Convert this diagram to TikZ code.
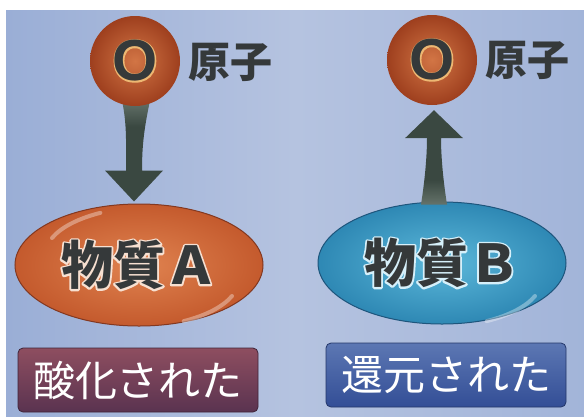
\documentclass[tikz,border=0pt]{standalone}
\usepackage{fontspec}
\usetikzlibrary{shapes.geometric,calc}
\newfontfamily\jpfont{Noto Sans CJK JP}
\newfontfamily\latinbold{Liberation Sans}
% stroke-only copy of a text, used as a soft light rim behind it
\newcommand\rimtext[3]{\special{pdf:code q 1 Tr #2 w 1 j 1 J #1 RG}#3\special{pdf:code Q}}
\definecolor{bgedge}{HTML}{9AAED6}
\definecolor{bgmid}{HTML}{B5C3E0}
\definecolor{atomin}{HTML}{D27545}
\definecolor{atomout}{HTML}{9E3F1E}
\definecolor{arrowc}{HTML}{3A4841}
\definecolor{arrowlt}{HTML}{A2B0A6}
\definecolor{inkc}{HTML}{35393A}
\definecolor{redin}{HTML}{E08350}
\definecolor{redout}{HTML}{C45A2D}
\definecolor{redline}{HTML}{833820}
\definecolor{bluein}{HTML}{5CB8DA}
\definecolor{blueout}{HTML}{2E88B4}
\definecolor{blueline}{HTML}{1E557C}
\definecolor{tagAtop}{HTML}{8E4E60}
\definecolor{tagAbot}{HTML}{5A3350}
\definecolor{tagBtop}{HTML}{5C77B3}
\definecolor{tagBbot}{HTML}{334E96}
\pgfdeclareverticalshading{shaftdown}{100bp}{color(0bp)=(arrowc); color(62bp)=(arrowc); color(94bp)=(arrowlt); color(100bp)=(arrowlt)}
\pgfdeclareverticalshading{shaftup}{100bp}{color(0bp)=(arrowlt); color(6bp)=(arrowlt); color(38bp)=(arrowc); color(100bp)=(arrowc)}
\tikzset{
  atom/.style={circle, minimum size=90pt, inner sep=0pt,
    inner color=atomin, outer color=atomout},
  atomletter/.style={inner sep=0pt, text=inkc,
    font=\latinbold\bfseries\fontsize{58}{58}\selectfont},
  atomlabel/.style={anchor=west, inner sep=0pt, text=inkc,
    font=\jpfont\bfseries\fontsize{42}{42}\selectfont},
  matter/.style={ellipse, minimum width=248pt, minimum height=122pt, inner sep=0pt,
    line width=1pt},
  matterlabel/.style={inner sep=0pt, text=inkc,
    font=\jpfont\bfseries\fontsize{52}{52}\selectfont},
  tag/.style={rounded corners=5pt, minimum width=240pt, minimum height=64pt, inner sep=0pt,
    line width=0.8pt, text=white, font=\jpfont\fontsize{42}{42}\selectfont},
  sheen/.style={white, opacity=0.35, line width=4pt, line cap=round}
}
\begin{document}
\begin{tikzpicture}[x=1pt,y=-1pt]
\useasboundingbox (0,0) rectangle (584,416);
% backdrop
\fill[white] (0,0) rectangle (584,416);
\shade[left color=bgedge, right color=bgedge!70!bgmid, middle color=bgmid]
  (6,10) rectangle (584,416);

% matter ellipses
\node[matter, draw=redline, inner color=redin, outer color=redout] (ma) at (139,265) {};
\node[matter, draw=blueline, inner color=bluein, outer color=blueout] (mb) at (442,263) {};
\draw[sheen] (52,238) arc[start angle=160, end angle=120, x radius=110pt, y radius=48pt];
\draw[sheen] (232,296) arc[start angle=-20, end angle=-60, x radius=110pt, y radius=48pt];
\draw[sheen] (535,296) arc[start angle=-20, end angle=-60, x radius=110pt, y radius=48pt];
\node[matterlabel] at (ma) {\rimtext{0.97 0.88 0.82}{3.6}{物質Ａ}};
\node[matterlabel] (tma) at (ma) {物質Ａ};
\node[matterlabel] at (mb) {\rimtext{0.84 0.94 0.98}{3.6}{物質Ｂ}};
\node[matterlabel] (tmb) at (mb) {物質Ｂ};

% oxygen atoms (placeholders for the arrows, drawn first)
\node[circle, minimum size=90pt] (oa) at (135,61) {};
\node[circle, minimum size=90pt] (ob) at (432,60) {};

% tapered arrow: the O atom moves into substance A
\coordinate (sa) at ($(oa.south)+(1,-6)$);
\coordinate (ea) at ($(oa.south |- ma.north)+(-1,-2)$);
\shade[shading=shaftdown]
  ($(sa)+(-14,0)$) .. controls ($(sa)+(-9,25)$) and ($(ea)+(-8,-60)$) .. ($(ea)+(-8,-31)$)
  -- ($(ea)+(-29,-31)$) -- (ea) -- ($(ea)+(29,-31)$) -- ($(ea)+(8,-31)$)
  .. controls ($(ea)+(8,-60)$) and ($(sa)+(9,25)$) .. ($(sa)+(14,0)$) -- cycle;

% tapered arrow: the O atom leaves substance B
\coordinate (sb) at ($(ob.south |- mb.north)+(2,3)$);
\coordinate (eb) at ($(ob.south)+(2,5)$);
\shade[shading=shaftup]
  ($(sb)+(-13,0)$) .. controls ($(sb)+(-9,-25)$) and ($(eb)+(-7,45)$) .. ($(eb)+(-7,28)$)
  -- ($(eb)+(-29,28)$) -- (eb) -- ($(eb)+(29,28)$) -- ($(eb)+(7,28)$)
  .. controls ($(eb)+(7,45)$) and ($(sb)+(9,-25)$) .. ($(sb)+(13,0)$) -- cycle;

\node[atom] at (oa) {};
\node[atom] at (ob) {};
\node[atomletter] at (oa) {\rimtext{0.93 0.72 0.45}{2.4}{O}};
\node[atomletter] (xa) at (oa) {O};
\node[atomletter] at (ob) {\rimtext{0.93 0.72 0.45}{2.4}{O}};
\node[atomletter] (xb) at (ob) {O};
\node[atomlabel] (la) at (188,62) {原子};
\node[atomlabel] (lb) at (485,60) {原子};

% result tags
\node[tag, draw=tagAbot!70!black, top color=tagAtop, bottom color=tagAbot] (ta) at (138,380) {酸化された};
\node[tag, draw=tagBbot!70!black, top color=tagBtop, bottom color=tagBbot] (tb) at (446,375) {還元された};
\end{tikzpicture}
\end{document}
